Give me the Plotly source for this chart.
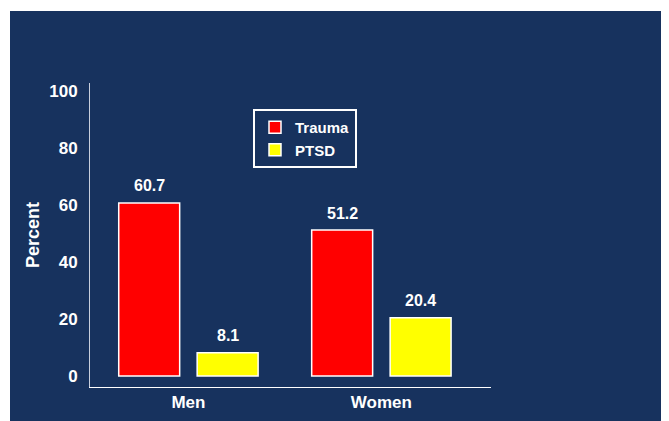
import plotly.graph_objects as go

categories = ["Men", "Women"]
trauma = [60.7, 51.2]
ptsd = [8.1, 20.4]
series_names = ["Trauma", "PTSD"]
y_ticks = [0, 20, 40, 60, 80, 100]

NAVY = "#17325E"
FONT = "Liberation Sans Narrow, Arial Narrow, Liberation Sans, Arial, sans-serif"
BARGAP = 0.187
GROUPGAP = 0.223

# the page body has an 8px default margin; figure is sized to fill the rest
PAGE_OFF = 8
W, H = 669 - PAGE_OFF, 421 - PAGE_OFF
L, T, R, B = 90 - PAGE_OFF, 83 - PAGE_OFF, 669 - 491, 421 - 387
PW, PH = W - L - R, H - T - B

fig = go.Figure()
fig.add_trace(go.Bar(name=series_names[0], x=categories, y=trauma,
                     marker=dict(color="#FF0000", line=dict(color="white", width=1.5))))
fig.add_trace(go.Bar(name=series_names[1], x=categories, y=ptsd,
                     marker=dict(color="#FFFF00", line=dict(color="white", width=1.5))))

# value labels above bars
off = (1 - BARGAP) / 4
for k, vals in enumerate([trauma, ptsd]):
    for i, v in enumerate(vals):
        fig.add_annotation(x=i + (-off if k == 0 else off), y=v, xref="x", yref="y",
                           text=f"{v:.1f}", showarrow=False, yshift=17, yanchor="middle",
                           font=dict(family=FONT, size=16, color="white", weight="bold"))

# navy panel (white strip at top and left of the image)
fig.add_shape(type="rect", xref="paper", yref="paper",
              x0=(10 - 90) / PW, x1=1.6, y0=-0.3, y1=(387 - 11) / PH,
              fillcolor=NAVY, line=dict(width=0), layer="below")

fig.update_layout(
    width=W, height=H,
    margin=dict(l=L, r=R, t=T, b=B, pad=0, autoexpand=False),
    paper_bgcolor="white", plot_bgcolor=NAVY,
    barmode="group", bargap=BARGAP, bargroupgap=GROUPGAP,
    font=dict(family=FONT, color="white", size=16, weight="bold"),
    showlegend=True,
    legend=dict(x=(253 - 90) / PW, y=(387 - 109) / PH, xanchor="left", yanchor="top",
                bgcolor=NAVY, bordercolor="white", borderwidth=2,
                font=dict(family=FONT, size=15, color="white", weight="bold"),
                itemwidth=30, tracegroupgap=4),
    xaxis=dict(range=[-0.510, 1.568], showline=True, linecolor="white", linewidth=1,
               showgrid=False, zeroline=False, ticks="", automargin=False,
               tickfont=dict(family=FONT, size=17, color="white", weight="bold")),
    yaxis=dict(range=[-3.9, 102.8], tickvals=y_ticks, showline=True,
               linecolor="#C8CEDC", linewidth=1, showgrid=False, zeroline=False,
               ticks="outside", ticklen=8, tickcolor="rgba(0,0,0,0)", automargin=False,
               tickfont=dict(family=FONT, size=17, color="white", weight="bold"),
               title=dict(text="Percent", standoff=4,
                          font=dict(family=FONT, size=18, color="white", weight="bold"))),
)

fig.write_html("out.html")
